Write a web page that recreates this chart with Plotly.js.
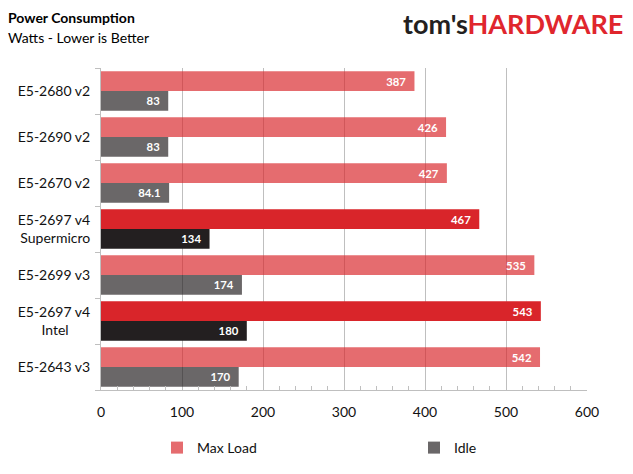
<!DOCTYPE html>
<html>
<head>
<meta charset="utf-8">
<script src="https://cdn.plot.ly/plotly-3.0.1.min.js"></script>
<style>
  html, body { margin: 0; padding: 0; background: #fff; }
  #chart { width: 633px; height: 474px; }
</style>
</head>
<body>
<div id="chart"></div>
<script>
// chart values
var cpus = ['E5-2680 v2', 'E5-2690 v2', 'E5-2670 v2', 'E5-2697 v4 Supermicro', 'E5-2699 v3', 'E5-2697 v4 Intel', 'E5-2643 v3'];
var cpuLabels = ['E5-2680 v2', 'E5-2690 v2', 'E5-2670 v2', 'E5-2697 v4<br>Supermicro', 'E5-2699 v3', 'E5-2697 v4<br>Intel\u00a0\u00a0\u00a0\u00a0\u00a0\u00a0', 'E5-2643 v3'];
var maxLoad = [387, 426, 427, 467, 535, 543, 542];
var idle = [83, 83, 84.1, 134, 174, 180, 170];
var highlight = [false, false, false, true, false, true, false];

var pad = '\u00a0\u00a0';
function labels(vals) {
  return vals.map(function (v) { return String(v) + pad; });
}

var maxColors = highlight.map(function (h) { return h ? '#D9252A' : 'rgba(217,38,43,0.68)'; });
var idleColors = highlight.map(function (h) { return h ? '#231F20' : 'rgba(35,31,32,0.68)'; });

var font = 'Lato, "Open Sans", sans-serif';

// plot box in pixels, used to place the header texts in paper units
var L = 101, R = 587, T = 68, B = 390;
function px(x) { return (x - L) / (R - L); }
function py(y) { return (B - y) / (B - T); }

var trace1 = {
  type: 'bar',
  orientation: 'h',
  name: 'Max Load',
  legend: 'legend',
  y: cpus,
  x: maxLoad,
  text: labels(maxLoad),
  textposition: 'inside',
  insidetextanchor: 'end',
  textfont: { color: '#fff', size: 14, family: font, weight: 'bold' },
  marker: { color: maxColors },
  hoverinfo: 'skip'
};

var trace2 = {
  type: 'bar',
  orientation: 'h',
  name: 'Idle',
  legend: 'legend2',
  y: cpus,
  x: idle,
  text: labels(idle),
  textposition: 'inside',
  insidetextanchor: 'end',
  textfont: { color: '#fff', size: 14, family: font, weight: 'bold' },
  marker: { color: idleColors },
  hoverinfo: 'skip'
};

var legendStyle = function (xpx) {
  return {
    orientation: 'h',
    xref: 'container',
    yref: 'container',
    x: xpx / 633,
    y: 26 / 474,
    xanchor: 'left',
    yanchor: 'middle',
    font: { size: 14, color: '#111' },
    bgcolor: 'rgba(0,0,0,0)'
  };
};

var layout = {
  width: 633,
  height: 474,
  barmode: 'group',
  bargap: 0.14,
  bargroupgap: 0,
  paper_bgcolor: '#fff',
  plot_bgcolor: '#fff',
  font: { family: font, size: 14, color: '#111' },
  margin: { t: T, b: 474 - B, l: L, r: 633 - R, pad: 0 },
  xaxis: {
    range: [0, 600],
    dtick: 100,
    tick0: 0,
    showgrid: true,
    gridcolor: '#BFBFBF',
    gridwidth: 1,
    zeroline: false,
    showline: true,
    linecolor: '#BFBFBF',
    linewidth: 1,
    ticks: '',
    ticklabelstandoff: 9,
    tickfont: { size: 14, color: '#111' },
    minor: { dtick: 20, ticks: 'inside', ticklen: 4, tickcolor: '#BFBFBF', showgrid: false }
  },
  yaxis: {
    autorange: 'reversed',
    type: 'category',
    tickvals: cpus,
    ticktext: cpuLabels,
    showgrid: false,
    zeroline: false,
    showline: true,
    linecolor: '#BFBFBF',
    linewidth: 1,
    ticks: 'outside',
    tickson: 'boundaries',
    ticklen: 5,
    tickcolor: '#BFBFBF',
    ticklabelstandoff: 7,
    tickfont: { size: 14, color: '#111' }
  },
  showlegend: true,
  legend: legendStyle(157),
  legend2: legendStyle(414),
  annotations: [
    {
      xref: 'paper', yref: 'paper',
      x: px(6), y: py(17),
      xanchor: 'left', yanchor: 'middle',
      text: '<b>Power Consumption</b>',
      showarrow: false,
      font: { size: 14, color: '#000', family: font }
    },
    {
      xref: 'paper', yref: 'paper',
      x: px(6), y: py(38),
      xanchor: 'left', yanchor: 'middle',
      text: 'Watts - Lower is Better',
      showarrow: false,
      font: { size: 14, color: '#000', family: font }
    },
    {
      xref: 'paper', yref: 'paper',
      x: px(625), y: py(23),
      xanchor: 'right', yanchor: 'middle',
      text: "<b>tom's</b><b><span style='color:#E0262D'>HARDWARE</span></b>",
      showarrow: false,
      font: { size: 27, color: '#231F20', family: font }
    }
  ]
};

Plotly.newPlot('chart', [trace1, trace2], layout, { displayModeBar: false, staticPlot: true });
</script>
</body>
</html>
